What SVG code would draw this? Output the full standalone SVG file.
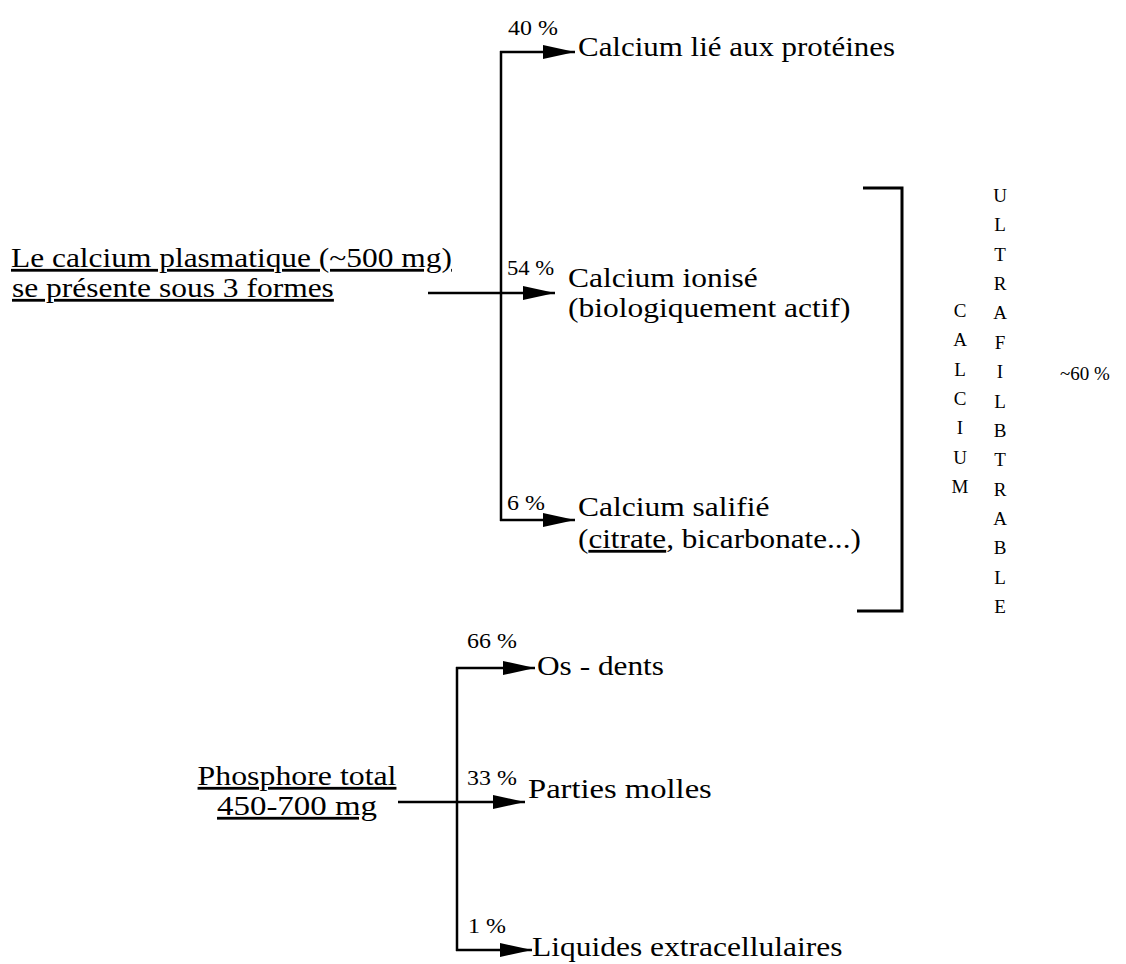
<svg xmlns="http://www.w3.org/2000/svg" width="1126" height="964" viewBox="0 0 1126 964">
<style>
  .t { font-family: "Liberation Serif", "Times New Roman", Times, serif; font-size: 28px; fill: #000; }
  .p { font-family: "Liberation Serif", "Times New Roman", Times, serif; font-size: 21px; fill: #000; }
  .v { font-family: "Liberation Serif", "Times New Roman", Times, serif; font-size: 19px; fill: #000; text-anchor: middle; }
  .u { text-decoration: underline; }
  .ln { stroke: #000; stroke-width: 2.5; fill: none; }
  .br { stroke: #000; stroke-width: 3; fill: none; }
</style>
<defs>
  <marker id="ah" markerUnits="userSpaceOnUse" markerWidth="34" markerHeight="18" refX="32" refY="8" orient="auto">
    <path d="M0,1 L32,8 L0,15 Z" fill="#000"/>
  </marker>
</defs>
<rect width="1126" height="964" fill="#fff"/>

<g id="connectors">
  <line class="ln" x1="501" y1="51" x2="501" y2="521"/>
  <line class="ln" x1="500" y1="52" x2="575" y2="52" marker-end="url(#ah)"/>
  <line class="ln" x1="428" y1="293" x2="555" y2="293" marker-end="url(#ah)"/>
  <line class="ln" x1="500" y1="520" x2="575" y2="520" marker-end="url(#ah)"/>
  <line class="ln" x1="457" y1="667" x2="457" y2="951"/>
  <line class="ln" x1="456" y1="668" x2="535" y2="668" marker-end="url(#ah)"/>
  <line class="ln" x1="398" y1="802" x2="525" y2="802" marker-end="url(#ah)"/>
  <line class="ln" x1="456" y1="950" x2="532" y2="950" marker-end="url(#ah)"/>
</g>

<g id="bracket">
  <polyline class="br" points="863,188 902,188 902,611 857,611"/>
</g>

<g id="calcium-source">
  <text class="t u" transform="translate(11,267) scale(1.122,1)">Le calcium plasmatique (~500 mg)</text>
  <text class="t u" transform="translate(12,297) scale(1.125,1)">se présente sous 3 formes</text>
</g>

<g id="calcium-proteines">
  <text class="p" transform="translate(508,35) scale(1.14,1)">40 %</text>
  <text class="t" transform="translate(578,56) scale(1.105,1)">Calcium lié aux protéines</text>
</g>

<g id="calcium-ionise">
  <text class="p" transform="translate(507,275) scale(1.08,1)">54 %</text>
  <text class="t" transform="translate(568,287) scale(1.125,1)">Calcium ionisé</text>
  <text class="t" transform="translate(568,317) scale(1.125,1)">(biologiquement actif)</text>
</g>

<g id="calcium-salifie">
  <text class="p" transform="translate(507,510) scale(1.14,1)">6 %</text>
  <text class="t" transform="translate(578,516) scale(1.125,1)">Calcium salifié</text>
  <text class="t" transform="translate(578,548) scale(1.113,1)">(<tspan class="u">citrate</tspan>, bicarbonate...)</text>
</g>

<g id="calcium-label">
  <text class="v" x="960" y="317">C</text>
  <text class="v" x="960" y="346.4">A</text>
  <text class="v" x="960" y="375.7">L</text>
  <text class="v" x="960" y="405.1">C</text>
  <text class="v" x="960" y="434.4">I</text>
  <text class="v" x="960" y="463.8">U</text>
  <text class="v" x="960" y="493.2">M</text>
</g>

<g id="ultrafiltrable-label">
  <text class="v" x="1000" y="202">U</text>
  <text class="v" x="1000" y="231.4">L</text>
  <text class="v" x="1000" y="260.7">T</text>
  <text class="v" x="1000" y="290.1">R</text>
  <text class="v" x="1000" y="319.4">A</text>
  <text class="v" x="1000" y="348.8">F</text>
  <text class="v" x="1000" y="378.2">I</text>
  <text class="v" x="1000" y="407.5">L</text>
  <text class="v" x="1000" y="436.9">B</text>
  <text class="v" x="1000" y="466.2">T</text>
  <text class="v" x="1000" y="495.6">R</text>
  <text class="v" x="1000" y="525">A</text>
  <text class="v" x="1000" y="554.3">B</text>
  <text class="v" x="1000" y="583.7">L</text>
  <text class="v" x="1000" y="613">E</text>
</g>

<g id="pct-60">
  <text class="p" x="1060" y="380" style="font-size:19px">~60 %</text>
</g>

<g id="phosphore-source">
  <text class="t u" text-anchor="middle" transform="translate(297,785) scale(1.137,1)">Phosphore total</text>
  <text class="t u" text-anchor="middle" transform="translate(297,815) scale(1.176,1)">450-700 mg</text>
</g>

<g id="os-dents">
  <text class="p" transform="translate(467,648) scale(1.14,1)">66 %</text>
  <text class="t" transform="translate(537,675) scale(1.119,1)">Os - dents</text>
</g>

<g id="parties-molles">
  <text class="p" transform="translate(467,785) scale(1.14,1)">33 %</text>
  <text class="t" transform="translate(528,798) scale(1.165,1)">Parties molles</text>
</g>

<g id="liquides">
  <text class="p" transform="translate(468,933) scale(1.14,1)">1 %</text>
  <text class="t" transform="translate(532,956) scale(1.125,1)">Liquides extracellulaires</text>
</g>
</svg>
